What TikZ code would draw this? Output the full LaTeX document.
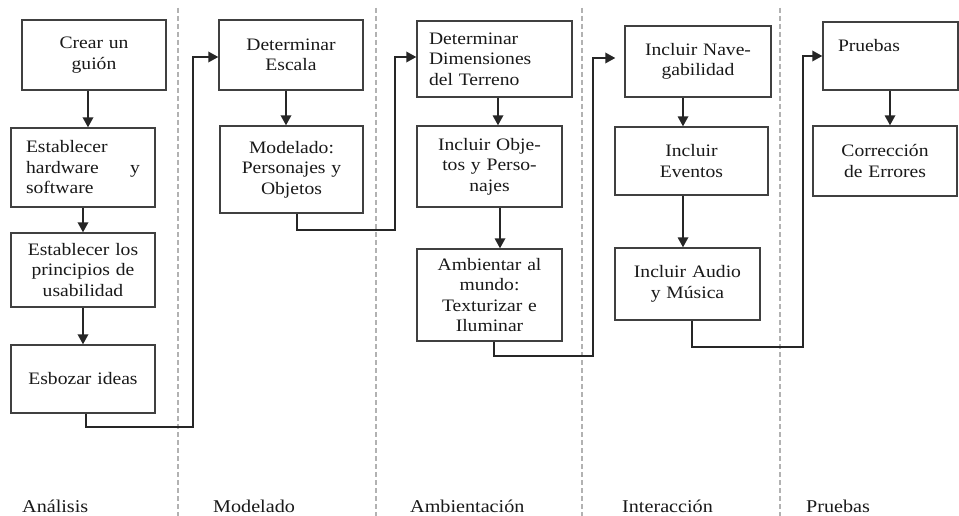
\documentclass[tikz,border=0pt]{standalone}
\usepackage{fontspec}
\setmainfont{Liberation Serif}[FakeStretch=1.12]
\usetikzlibrary{arrows.meta}
\begin{document}
\begin{tikzpicture}[x=1pt,y=-1pt,
  box/.style={draw=black!75, line width=1.4pt, fill=white, inner ysep=0pt, inner xsep=5pt,
    align=center, font=\fontsize{17.5}{20.5}\selectfont, text=black!90},
  conn/.style={line width=1.8pt, draw=black!85, -{Triangle[length=10pt,width=10.5pt]}},
  sep/.style={draw=black!30, line width=1.3pt, dash pattern=on 5pt off 3pt},
  lab/.style={anchor=base west, inner sep=0pt, font=\fontsize{18}{20}\selectfont, text=black!90}]
\useasboundingbox (0,0) rectangle (959,516);
\fill[white] (0,0) rectangle (959,516);

% separators
\draw[sep] (178,8) -- (178,516);
\draw[sep] (376,8) -- (376,516);
\draw[sep] (582,8) -- (582,516);
\draw[sep] (780,8) -- (780,516);

% Análisis
\node[box, minimum width=144pt, minimum height=70pt, text width=134pt] (b1) at (94,55) {Crear un\\guión};
\node[box, minimum width=144pt, minimum height=79pt, text width=114pt, inner xsep=15pt, align=left] (b2) at (83,167.5) {Establecer\\hardware\hfill y\\software};
\node[box, minimum width=144pt, minimum height=74pt, text width=134pt] (b3) at (83,270) {Establecer los\\principios de\\usabilidad};
\node[box, minimum width=144pt, minimum height=68pt, text width=134pt] (b4) at (83,379) {Esbozar ideas};

% Modelado
\node[box, minimum width=144pt, minimum height=70pt, text width=134pt] (b5) at (291,55) {Determinar\\Escala};
\node[box, minimum width=143pt, minimum height=87pt, text width=133pt] (b6) at (291.5,169.5) {Modelado:\\Personajes y\\Objetos};

% Ambientación
\node[box, minimum width=155pt, minimum height=76pt, text width=131pt, inner xsep=12pt, align=left] (b7) at (494.5,59) {Determinar\\Dimensiones\\del Terreno};
\node[box, minimum width=145pt, minimum height=81pt, text width=135pt] (b8) at (489.5,166.5) {Incluir Obje-\\tos y Perso-\\najes};
\node[box, minimum width=145pt, minimum height=92pt, text width=135pt] (b9) at (489.5,295) {Ambientar al\\mundo:\\Texturizar e\\Iluminar};

% Interacción
\node[box, minimum width=146pt, minimum height=71pt, text width=136pt] (b10) at (698,61.5) {Incluir Nave-\\gabilidad};
\node[box, minimum width=153pt, minimum height=68pt, text width=143pt] (b11) at (691.5,161) {Incluir\\Eventos};
\node[box, minimum width=145pt, minimum height=72pt, text width=135pt] (b12) at (687.5,284) {Incluir Audio\\y Música};

% Pruebas
\node[box, minimum width=135pt, minimum height=68pt, text width=105pt, inner xsep=15pt, align=left] (b13) at (890.5,56) {Pruebas\\ \mbox{}};
\node[box, minimum width=144pt, minimum height=70pt, text width=134pt] (b14) at (885,161) {Corrección\\de Errores};

% vertical arrows
\draw[conn] ([xshift=-6pt]b1.south) -- ([xshift=-6pt]b1.south |- b2.north);
\draw[conn] (b2.south) -- (b3.north);
\draw[conn] (b3.south) -- (b4.north);
\draw[conn] ([xshift=-5pt]b5.south) -- ([xshift=-5pt]b5.south |- b6.north);
\draw[conn] ([xshift=3.5pt]b7.south) -- ([xshift=3.5pt]b7.south |- b8.north);
\draw[conn] ([xshift=10.5pt]b8.south) -- ([xshift=10.5pt]b8.south |- b9.north);
\draw[conn] ([xshift=-15pt]b10.south) -- ([xshift=-15pt]b10.south |- b11.north);
\draw[conn] ([xshift=-8.5pt]b11.south) -- ([xshift=-8.5pt]b11.south |- b12.north);
\draw[conn] ([xshift=-0.5pt]b13.south) -- ([xshift=-0.5pt]b13.south |- b14.north);

% phase connectors
\coordinate (k1) at (193,427);
\coordinate (k2) at (395,230);
\coordinate (k3) at (593,356);
\coordinate (k4) at (803,347);
\draw[conn] ([xshift=3pt]b4.south) |- (k1) |- ([yshift=-2pt]b5.west);
\draw[conn] ([xshift=5.5pt]b6.south) |- (k2) |- ([yshift=2pt]b7.west);
\draw[conn] ([xshift=4.5pt]b9.south) |- (k3) |- ([xshift=-9pt,yshift=3.5pt]b10.west);
\draw[conn] ([xshift=4.5pt]b12.south) |- (k4) |- (b13.west);

% phase labels
\node[lab] (l1) at (22,512) {Análisis};
\node[lab] (l2) at (213,512) {Modelado};
\node[lab] (l3) at (410,512) {Ambientación};
\node[lab] (l4) at (622,512) {Interacción};
\node[lab] (l5) at (806,512) {Pruebas};
\end{tikzpicture}
\end{document}
